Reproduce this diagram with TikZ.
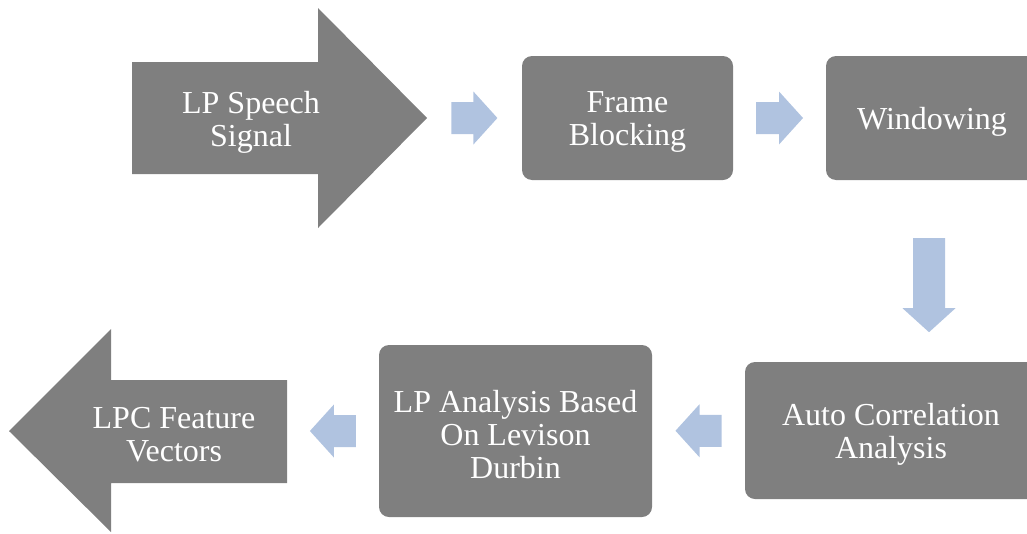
\documentclass[tikz,border=0pt]{standalone}
\usepackage{fontspec}
\setmainfont{Liberation Serif}
\usetikzlibrary{calc}
\definecolor{boxgray}{HTML}{7F7F7F}
\definecolor{flowblue}{HTML}{B0C3E0}

\begin{document}
\begin{tikzpicture}[x=1pt, y=-1pt, font=\fontsize{32}{33}\selectfont,
	box/.style={rectangle, rounded corners=10pt, fill=boxgray, inner sep=0pt},
	label/.style={text=white, align=center, inner sep=0pt},
	% small block arrow pointing along +x, #1 = total length
	flow/.pic={\fill[flowblue] (-#1/2,-16) -- (#1/2-24,-16) -- (#1/2-24,-26.5) -- (#1/2,0)
		-- (#1/2-24,26.5) -- (#1/2-24,16) -- (-#1/2,16) -- cycle;}]
	\useasboundingbox (0,0) rectangle (1027,533);
	% Mũi tên lớn đầu vào
	\fill[boxgray] (132,62) -- (318,62) -- (318,8) -- (427,118) coordinate (speechtip)
		-- (318,228) -- (318,174) -- (132,174) -- cycle;
	\node[label] (speech) at (251,122) {LP Speech\\Signal};
	% Mũi tên lớn đầu ra
	\fill[boxgray] (9,431) -- (111,329) -- (111,380) -- (287,380)
		-- (287,483) -- (111,483) -- (111,532) -- cycle;
	\coordinate (vecend) at (287,431);
	\node[label] (vectors) at (174,435) {LPC Feature\\Vectors};
	% Các khối xử lý
	\node[box, minimum width=211, minimum height=124] (frame) at (627.5,118) {};
	\node[box, minimum width=212, minimum height=124] (window) at (932,118) {};
	\node[box, minimum width=292, minimum height=137] (autocorr) at (891,430.5) {};
	\node[box, minimum width=273, minimum height=172] (lpa) at (515.5,431) {};
	\node[label] (frametxt) at ([yshift=-4pt]frame.center) {Frame\\Blocking};
	\node[label] (windowtxt) at ([yshift=-4pt]window.center) {Windowing};
	\node[label] (autocorrtxt) at ([yshift=-4pt]autocorr.center) {Auto Correlation\\Analysis};
	\node[label] (lpatxt) at ([yshift=-4pt]lpa.center) {LP Analysis Based\\On Levison\\Durbin};
	% Mũi tên nhỏ nối các khối
	\path ($(speechtip)!0.5!(frame.west)$) pic {flow=46};
	\path ($(frame.east)!0.5!(window.west)$) pic {flow=47};
	\path (window.south) ++(-3,105) pic[rotate=-90] {flow=94};
	\path ($(autocorr.west)!0.5!(lpa.east)$) pic[rotate=180] {flow=46};
	\path ($(lpa.west)!0.5!(vecend)$) pic[rotate=180] {flow=46};
\end{tikzpicture}
\end{document}
